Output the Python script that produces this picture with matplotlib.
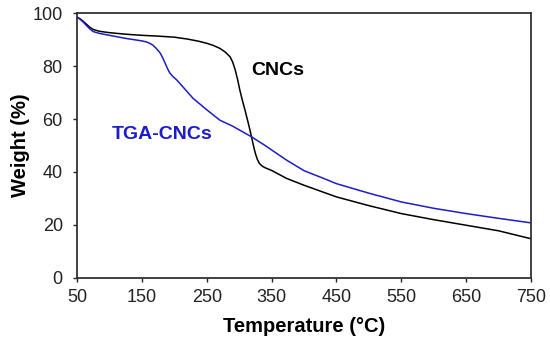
import matplotlib
matplotlib.use("Agg")
import matplotlib.pyplot as plt

plt.rcParams['font.family'] = ['Liberation Sans', 'DejaVu Sans']

# CNCs (black)
t_cnc = [50, 55, 60, 65, 70, 75, 85, 100, 126, 150, 175, 200, 220, 237, 250, 260, 270, 278,
         286, 290, 294, 298, 301, 305, 309, 313, 317, 322, 325, 328, 331, 335, 340, 350,
         373, 400, 450, 500, 550, 600, 650, 700, 750]
w_cnc = [98.5, 97.8, 96.8, 95.7, 94.6, 93.8, 93.1, 92.6, 92.0, 91.6, 91.3, 90.9, 90.2, 89.4,
         88.6, 87.8, 86.7, 85.4, 83.5, 81.5, 78.5, 74.5, 71.0, 67.0, 63.4, 59.5, 55.5,
         50.0, 47.0, 44.8, 43.3, 42.3, 41.6, 40.6, 37.6, 35.0, 30.6, 27.3, 24.3, 22.0,
         19.9, 17.8, 14.8]

# TGA-CNCs (blue)
t_tga = [50, 55, 60, 65, 70, 75, 85, 100, 126, 150, 157, 162, 167, 172, 178, 182, 186,
         190, 193, 198, 204, 229, 250, 270, 290, 319, 340, 373, 400, 430, 450, 500, 550,
         600, 650, 700, 750]
w_tga = [98.5, 97.6, 96.5, 95.2, 94.0, 93.0, 92.3, 91.6, 90.4, 89.5, 89.1, 88.6, 87.9,
         86.7, 85.0, 83.2, 81.0, 78.8, 77.4, 76.0, 74.7, 67.8, 63.5, 59.6, 57.3, 53.3,
         50.0, 44.5, 40.5, 37.6, 35.6, 32.0, 28.7, 26.3, 24.3, 22.5, 20.8]

xticks = [50, 150, 250, 350, 450, 550, 650, 750]
yticks = [0, 20, 40, 60, 80, 100]

blue = '#1c1cc8'

fig = plt.figure(figsize=(5.5, 3.44), dpi=100)
ax = fig.add_axes([0.14, 0.192, 0.8255, 0.770])

ax.plot(t_cnc, w_cnc, color='black', lw=1.1)
ax.plot(t_tga, w_tga, color=blue, lw=1.1)

ax.set_xlim(50, 750)
ax.set_ylim(0, 100)
ax.set_xticks(xticks)
ax.set_yticks(yticks)
ax.tick_params(direction='out', length=3.2, width=1, labelsize=13, colors='#222222',
               top=False, right=False)
ax.tick_params(axis='x', pad=4.5)
ax.tick_params(axis='y', pad=7)
for s in ax.spines.values():
    s.set_linewidth(1.3)
    s.set_color('#333333')

ax.set_xlabel('Temperature (°C)', fontsize=14.5, fontweight='bold', labelpad=8)
ax.set_ylabel('Weight (%)', fontsize=14.5, fontweight='bold', labelpad=2)

ax.text(359, 78.5, 'CNCs', fontsize=14, fontweight='bold', color='black',
        ha='center', va='center')
ax.text(182, 54, 'TGA-CNCs', fontsize=14, fontweight='bold', color=blue,
        ha='center', va='center')

fig.savefig('out.png', dpi=100)
